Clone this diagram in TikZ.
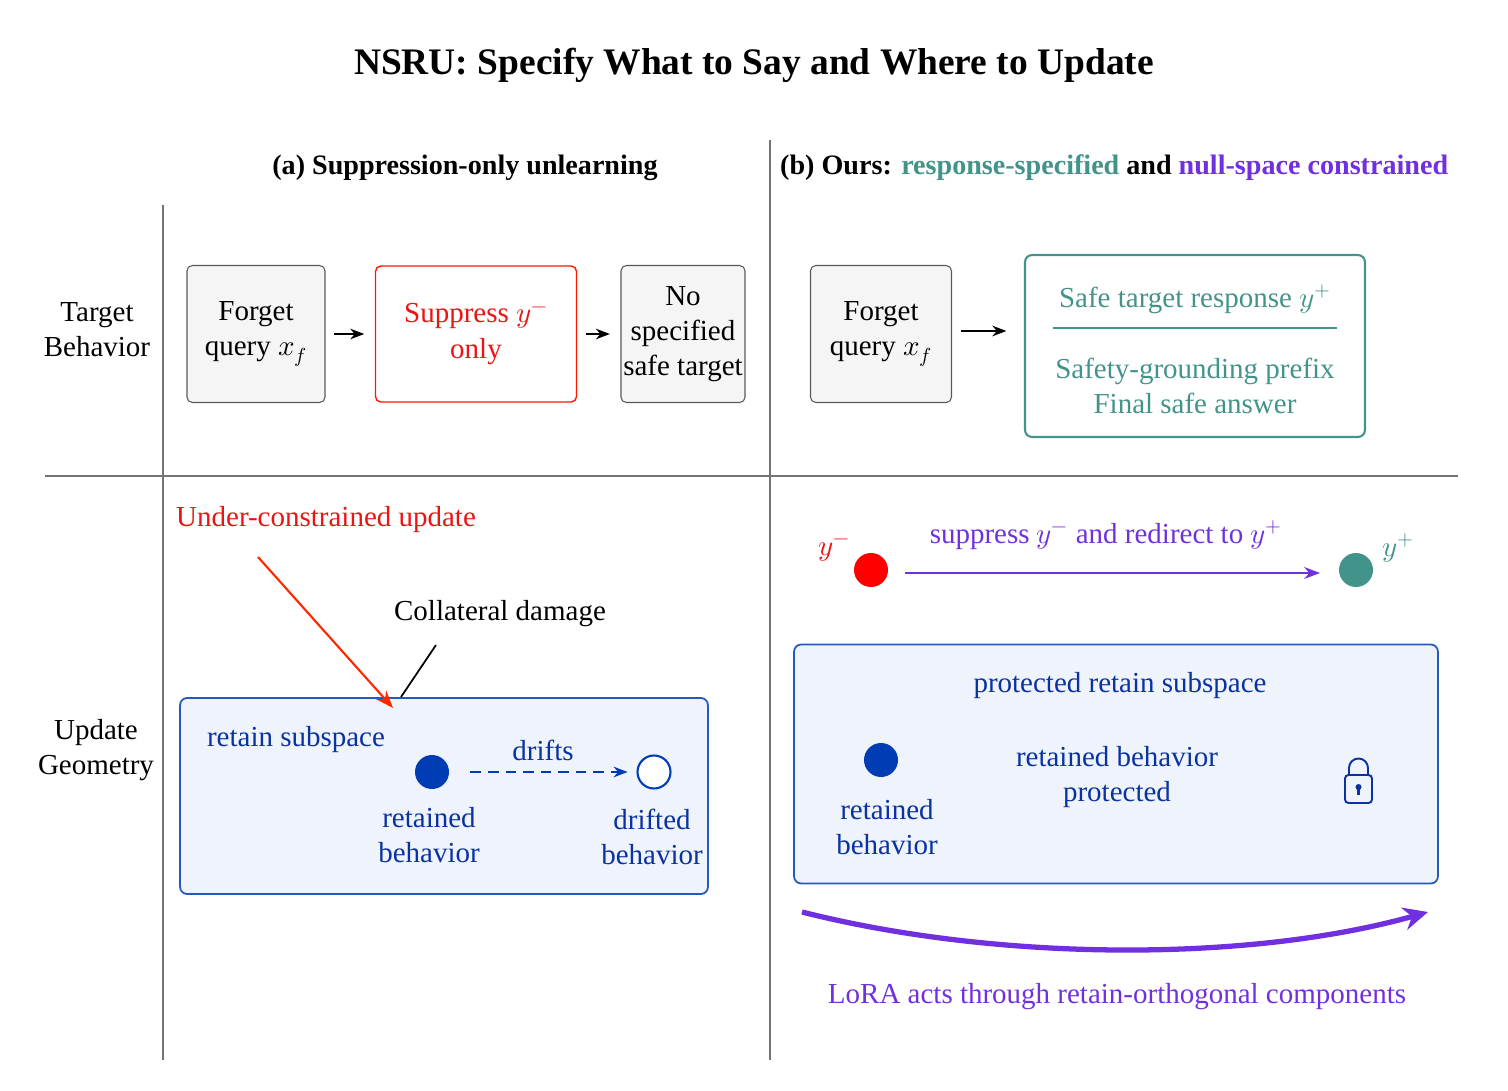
\documentclass[tikz,border=0pt]{standalone}
\usepackage{fontspec}
\setmainfont{Liberation Serif}
\usepackage{unicode-math}
\setmathfont{Latin Modern Math}
\usetikzlibrary{arrows.meta}
\definecolor{teal1}{RGB}{66,148,138}
\definecolor{purp}{RGB}{112,48,224}
\definecolor{bluetxt}{RGB}{10,50,160}
\definecolor{bluedot}{RGB}{0,60,180}
\definecolor{boxblue}{RGB}{238,243,252}
\definecolor{redtxt}{RGB}{235,20,20}
\tikzset{
  base/.style={font=\fontsize{16.5}{20}\selectfont, align=center},
  gbox/.style={base, draw=black!65, fill=black!4, rounded corners=3pt, line width=0.6pt},
  sep/.style={draw=black!55, line width=0.6pt},
  arr/.style={-{Stealth[length=8pt]}, line width=1.3pt, shorten <=5pt, shorten >=6pt},
}
\begin{document}
\begin{tikzpicture}[x=0.02cm, y=-0.02cm]
    \useasboundingbox (0,0) rectangle (1508,1091);

    % title
    \node[base, font=\fontsize{21.3}{25}\selectfont\bfseries] (title) at (754,65) {NSRU: Specify What to Say and Where to Update};

    % separators
    \draw[sep] (770,140) -- (770,1060);
    \draw[sep] (163,205) -- (163,1060);
    \draw[sep] (45,476) -- (1458,476);

    % headers
    \node[base, font=\fontsize{16}{19}\selectfont\bfseries] (ha) at (465,168) {(a) Suppression-only unlearning};
    \node[base, font=\fontsize{16}{19}\selectfont\bfseries, anchor=west] (hb) at (774,168)
      {(b) Ours: \textcolor{teal1}{response-specified} and \textcolor{purp}{null-space constrained}};

    \node[base] (tb) at (97,330) {Target\\Behavior};
    \node[base] (ug) at (96,750) {Update\\Geometry};

    % boxes (a)
    \node[gbox, minimum width=2.76cm, minimum height=2.74cm] (fq1) at (256,334) {Forget\\query $x_f$};
    \node[base, draw=red!80!orange, rounded corners=3pt, line width=0.8pt, text=redtxt,
          minimum width=4.02cm, minimum height=2.72cm] (sup) at (476,334) {Suppress $y^{-}$\\only};
    \node[gbox, minimum width=2.48cm, minimum height=2.74cm, inner sep=0pt] (nst) at (683,334) {No\\specified\\safe target};
    \draw[arr] (fq1) -- (sup);
    \draw[arr] (sup) -- (nst);

    % boxes (b)
    \node[gbox, minimum width=2.82cm, minimum height=2.74cm] (fq2) at (881,334) {Forget\\query $x_f$};
    \node[draw=teal1, rounded corners=4pt, line width=1.2pt, minimum width=6.8cm, minimum height=3.64cm] (safe) at (1195,346) {};
    \node[base, text=teal1] (st) at (1195,299) {Safe target response $y^{+}$};
    \draw[teal1, line width=1.2pt] (1053,328) -- (1337,328);
    \node[base, text=teal1] (sg) at (1195,386) {Safety-grounding prefix\\Final safe answer};
    \draw[arr, shorten >=10pt] (fq2.east) ++(0,-3) coordinate (a1) -- (safe.west |- a1);

    % update geometry (a)
    \node[base, text=redtxt, anchor=west] (uc) at (170,520) {Under-constrained update};
    \node[base] (cd) at (500,614) {Collateral damage};
    \node[draw=bluedot!85, fill=boxblue, rounded corners=4pt, line width=1pt,
          minimum width=10.56cm, minimum height=3.92cm] (rs) at (444,796) {};
    \coordinate (ucs) at (258,557);
    \coordinate (uce) at (393,708);
    \draw[-{Stealth[length=10pt]}, draw=red!70!orange, line width=1.2pt] (ucs) -- (uce);
    \coordinate (cds) at (436,645);
    \coordinate (cde) at (401,697);
    \draw[line width=1pt] (cds) -- (cde);
    \node[base, text=bluetxt] (rst) at (296,740) {retain subspace};
    \node[circle, fill=bluedot, minimum size=0.68cm, inner sep=0pt] (d1) at (432,772) {};
    \node[circle, draw=bluedot, fill=white, line width=1.2pt, minimum size=0.66cm, inner sep=0pt] (d2) at (654,772) {};
    \draw[-{Stealth[length=8pt]}, draw=bluedot, dash pattern=on 6pt off 4pt, line width=1.3pt,
          shorten <=12pt, shorten >=5pt] (d1) -- (d2);
    \node[base, text=bluetxt] (dr) at (543,750) {drifts};
    \node[base, text=bluetxt] (rb1) at (429,835) {retained\\behavior};
    \node[base, text=bluetxt] (db) at (652,837) {drifted\\behavior};

    % update geometry (b)
    \node[base, text=redtxt] (ym) at (834,550) {$y^{-}$};
    \node[circle, fill=red, minimum size=0.68cm, inner sep=0pt] (rd) at (871,570) {};
    \node[circle, fill=teal1, minimum size=0.68cm, inner sep=0pt] (td) at (1356,570) {};
    \node[base, text=teal1] (yp) at (1398,548) {$y^{+}$};
    \coordinate (pa) at (905,573);
    \coordinate (pb) at (1320,573);
    \draw[-{Stealth[length=9pt]}, draw=purp, line width=1.2pt] (pa) -- (pb);
    \node[base, text=purp] (sr) at (1106,535) {suppress $y^{-}$ and redirect to $y^{+}$};

    \node[draw=bluedot!85, fill=boxblue, rounded corners=4pt, line width=1pt,
          minimum width=12.88cm, minimum height=4.78cm] (prs) at (1116,764) {};
    \node[base, text=bluetxt] (prt) at (1120,686) {protected retain subspace};
    \node[circle, fill=bluedot, minimum size=0.68cm, inner sep=0pt] (d3) at (881,760) {};
    \node[base, text=bluetxt] (rb2) at (887,827) {retained\\behavior};
    \node[base, text=bluetxt] (rbp) at (1117,777) {retained behavior\\protected};

    % lock
    \draw[bluetxt, line width=1.1pt, rounded corners=2pt] (1345,775) rectangle (1372,803);
    \draw[bluetxt, line width=1.1pt] (1349,775) -- (1349,768) arc[start angle=180, end angle=360, radius=9.5] -- (1368,775);
    \fill[bluetxt] (1358.5,787) circle (3);
    \fill[bluetxt] (1357,787) rectangle (1360,795);

    % LoRA arrow
    \coordinate (la) at (802,912);
    \coordinate (lb) at (1428,912);
    \draw[-{Stealth[length=14pt, width=13pt]}, draw=purp, line width=3pt]
      (la) .. controls (1000,962) and (1250,962) .. (lb);
    \node[base, text=purp] (lo) at (1117,997) {LoRA acts through retain-orthogonal components};
\end{tikzpicture}
\end{document}
